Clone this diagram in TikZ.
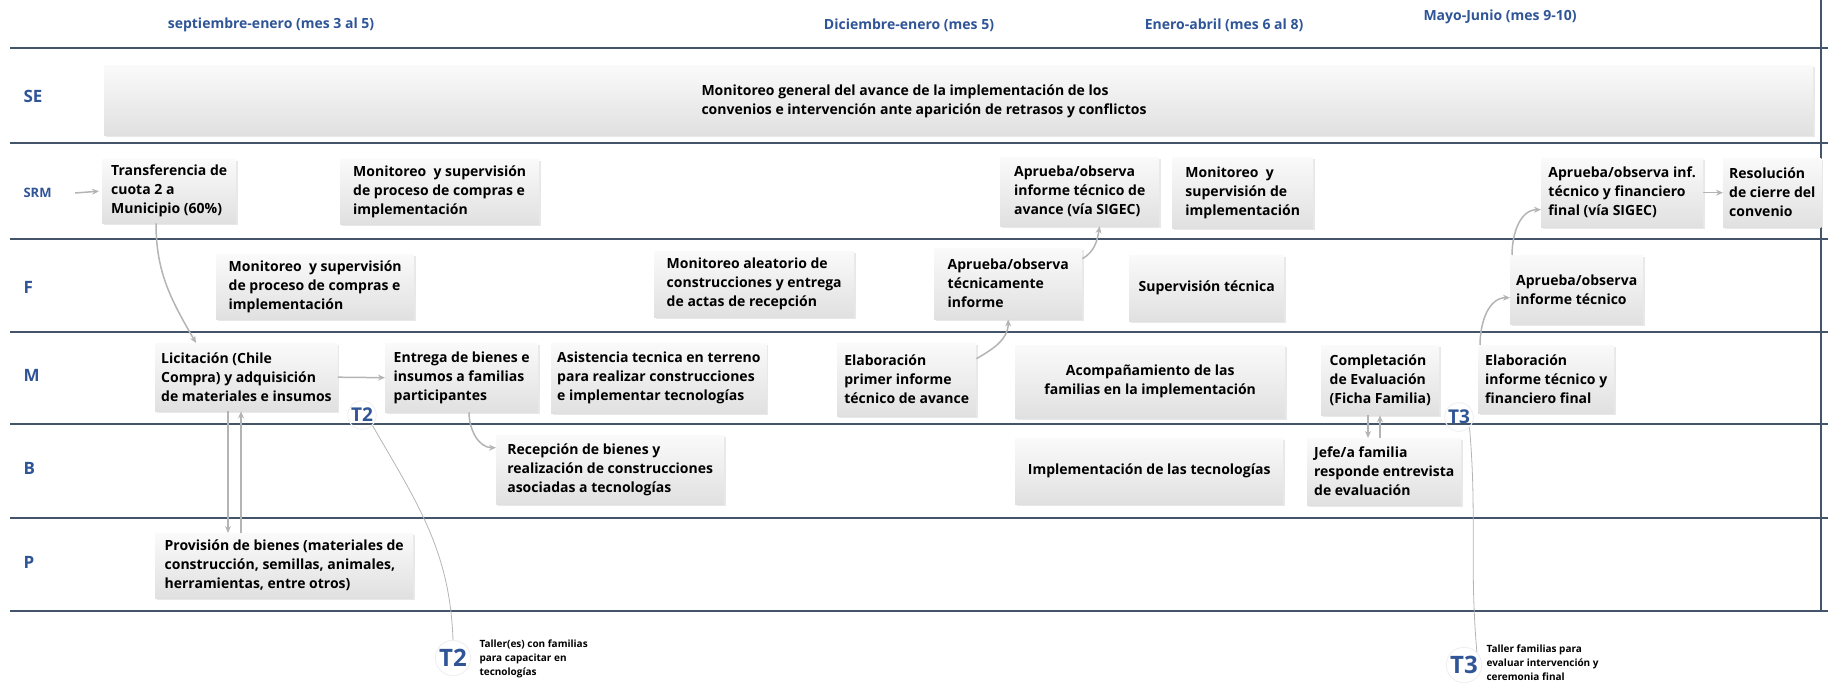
\documentclass[tikz,border=0pt]{standalone}
\usepackage{fontspec}
\setmainfont{Open Sans}
\usetikzlibrary{arrows.meta,shadows}
\definecolor{rule}{RGB}{68,84,106}
\definecolor{lane}{RGB}{47,85,151}
\definecolor{conn}{RGB}{180,180,180}
\begin{document}
\begin{tikzpicture}[x=1pt,y=1pt,
  act/.style={anchor=north west,align=left,inner xsep=6pt,inner ysep=3pt,top color=gray!4,bottom color=gray!24,drop shadow={shadow xshift=1.5pt,shadow yshift=-1.5pt,opacity=0.18},font=\fontsize{14}{19}\selectfont\bfseries},
  lanename/.style={anchor=west,text=lane,font=\fontsize{17}{20}\selectfont\bfseries},
  period/.style={text=lane,font=\fontsize{14}{16}\selectfont\bfseries},
  arr/.style={conn,line width=1.5pt,-{Stealth[length=7pt,width=6pt]}},
  tline/.style={conn,line width=0.8pt},
  tmark/.style={circle,draw=gray!12,line width=1pt,text=lane,inner sep=1pt,font=\fontsize{19}{20}\selectfont\bfseries},
  tnote/.style={anchor=west,align=left,font=\fontsize{10}{14}\selectfont\bfseries}]
\useasboundingbox (0,0) rectangle (1828,-684);

% lanes
\foreach \y in {48,143,239,332,424,518,611}
  \draw[rule,line width=1.6pt] (10,-\y) -- (1828,-\y);
\draw[rule,line width=1.6pt] (1821,0) -- (1821,-611);

\node[period] (p1) at (271,-25) {septiembre-enero (mes 3 al 5)};
\node[period] (p2) at (909,-25) {Diciembre-enero (mes 5)};
\node[period] (p3) at (1224,-25) {Enero-abril (mes 6 al 8)};
\node[period] (p4) at (1500,-17) {Mayo-Junio (mes 9-10)};

\node[lanename] (se) at (20,-96) {SE};
\node[lanename,font=\fontsize{13}{15}\selectfont\bfseries] (srm) at (20,-193) {SRM};
\node[lanename] (f) at (20,-287) {F};
\node[lanename] (m) at (20,-375) {M};
\node[lanename] (b) at (20,-468) {B};
\node[lanename] (p) at (20,-562) {P};

% SE
\node[act,minimum width=1709,minimum height=70] (segen) at (104,-65) {};
\node[anchor=west,align=left,font=\fontsize{14}{19}\selectfont\bfseries] (setext) at (698,-101) {Monitoreo general del avance de la implementación de los\\convenios e intervención ante aparición de retrasos y conflictos};

% SRM
\node[act,minimum width=134,minimum height=64] (tr) at (102,-159) {Transferencia de\\cuota 2 a\\Municipio (60\%)};
\node[act,minimum width=199,minimum height=65] (srmmon) at (340,-159) {Monitoreo \ y supervisión\\de proceso de compras e\\implementación};
\node[act,minimum width=159,minimum height=69] (apsig) at (1000,-157) {Aprueba/observa\\informe técnico de\\avance (vía SIGEC)};
\node[act,minimum width=141,minimum height=71] (srmimp) at (1172,-157) {Monitoreo \ y\\supervisión de\\implementación};
\node[act,minimum width=162,minimum height=69] (apfin) at (1541,-158) {Aprueba/observa inf.\\técnico y financiero\\final (vía SIGEC)};
\node[act,minimum width=96,minimum height=69] (res) at (1723,-158) {Resolución\\de cierre del\\convenio};

% F
\node[act,minimum width=198,minimum height=65] (fmon) at (216,-254) {Monitoreo \ y supervisión\\de proceso de compras e\\implementación};
\node[act,minimum width=200,minimum height=66] (alea) at (654,-251) {Monitoreo aleatorio de\\construcciones y entrega\\de actas de recepción};
\node[act,minimum width=148,minimum height=71] (apt) at (934,-248) {Aprueba/observa\\técnicamente\\informe};
\node[act,align=center,minimum width=155,minimum height=66] (sup) at (1129,-255) {Supervisión técnica};
\node[act,minimum width=128,minimum height=69] (apinf) at (1510,-255) {Aprueba/observa\\informe técnico};

% M
\node[act,minimum width=182,minimum height=68] (lic) at (155,-343) {Licitación (Chile\\Compra) y adquisición\\de materiales e insumos};
\node[act,minimum width=153,minimum height=69] (ent) at (385,-343) {Entrega de bienes e\\insumos a familias\\participantes};
\node[act,minimum width=215,minimum height=70] (asis) at (551,-343) {Asistencia tecnica en terreno\\para realizar construcciones\\e implementar tecnologías};
\node[act,minimum width=139,minimum height=73] (ela1) at (837,-343) {Elaboración\\primer informe\\técnico de avance};
\node[act,align=center,minimum width=270,minimum height=73] (acom) at (1015,-345) {Acompañamiento de las\\familias en la implementación};
\node[act,minimum width=118,minimum height=70] (comp) at (1321,-345) {Completación\\de Evaluación\\(Ficha Familia)};
\node[act,minimum width=136,minimum height=68] (elaf) at (1478,-345) {Elaboración\\informe técnico y\\financiero final};

% B
\node[act,minimum width=228,minimum height=69] (rec) at (496,-435) {Recepción de bienes y\\realización de construcciones\\asociadas a tecnologías};
\node[act,align=center,minimum width=268,minimum height=66] (impl) at (1015,-438) {Implementación de las tecnologías};
\node[act,minimum width=154,minimum height=67] (jefe) at (1307,-438) {Jefe/a familia\\responde entrevista\\de evaluación};

% P
\node[act,minimum width=258,minimum height=65] (prov) at (155,-533) {Provisión de bienes (materiales de\\construcción, semillas, animales,\\herramientas, entre otros)};

% talleres
\node[tmark] (t2a) at (362,-415) {T2};
\node[tmark] (t3a) at (1459,-417) {T3};
\node[tmark,font=\fontsize{24}{24}\selectfont\bfseries] (t2b) at (453,-658) {T2};
\node[tmark,font=\fontsize{24}{24}\selectfont\bfseries] (t3b) at (1464,-665) {T3};
\node[tnote] (t2note) at (476,-659) {Taller(es) con familias\\para capacitar en\\tecnologías};
\node[tnote] (t3note) at (1483,-663) {Taller familias para\\evaluar intervención y\\ceremonia final};

% connectors
\draw[arr] ([xshift=20]srm.east) -- ([xshift=-3]tr.west);
\draw[arr] ([xshift=54]tr.south west) to[out=-90,in=120] ([xshift=41]lic.north west);
\draw[arr] ([xshift=73]lic.south west) -- ([xshift=73]lic.south west |- prov.north);
\draw[arr] ([xshift=86]lic.south west |- prov.north) -- ([xshift=86]lic.south west);
\draw[arr] (lic.east) -- (ent.west);
\draw[arr] ([xshift=84]ent.south west) to[out=-90,in=180] ([yshift=22]rec.west);
\draw[arr] ([yshift=21]ela1.east) to[out=30,in=-90] (apt.south);
\draw[arr] ([yshift=25]apt.east) to[out=30,in=-100] ([xshift=20]apsig.south);
\draw[arr] ([xshift=2]elaf.north west) to[out=90,in=180] ([yshift=-8]apinf.west);
\draw[arr] ([xshift=2]apinf.north west) to[out=90,in=180] ([yshift=-17]apfin.west);
\draw[arr] (apfin.east) -- (res.west);
\draw[arr] ([xshift=47]comp.south west) -- ([xshift=47]comp.south west |- jefe.north);
\draw[arr] ([xshift=59]comp.south west |- jefe.north) -- ([xshift=59]comp.south west);
\draw[tline] (t2a.south east) to[out=-60,in=92] (t2b.north);
\draw[tline] (t3a.south east) to[out=-85,in=95] (t3b.north east);
\end{tikzpicture}
\end{document}
